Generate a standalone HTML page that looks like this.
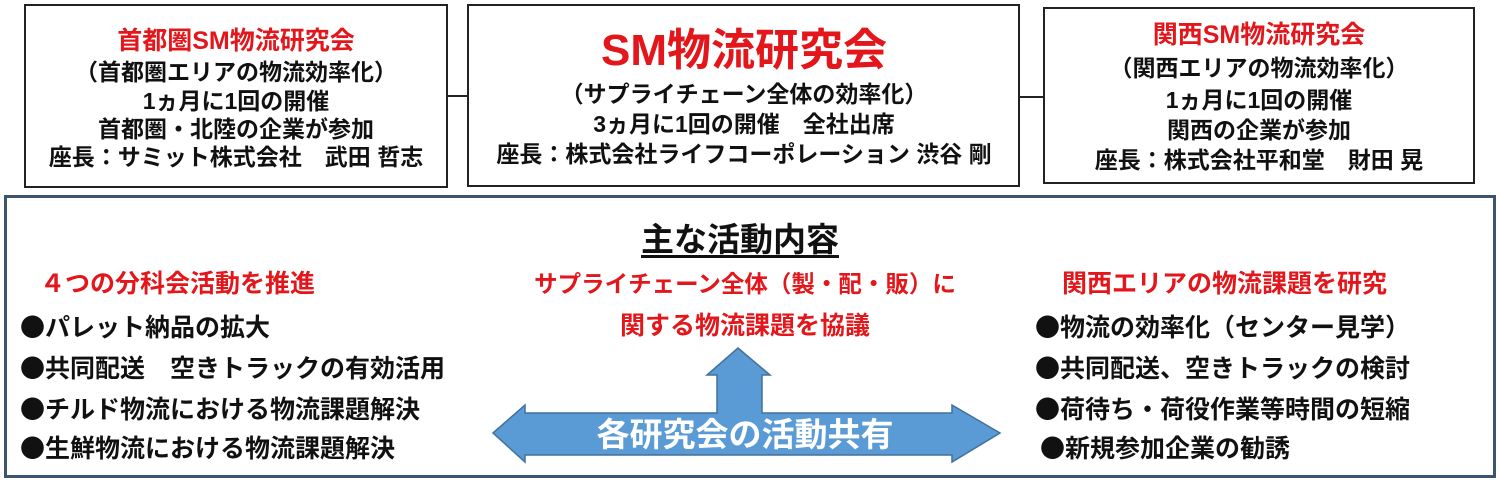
<!DOCTYPE html>
<html><head><meta charset="utf-8"><style>
body{margin:0;width:1500px;height:480px;background:#fff;position:relative;overflow:hidden;font-family:"Liberation Sans","Noto Sans CJK JP",sans-serif;font-weight:bold;color:#111}
.b{position:absolute;border:2px solid #222;box-sizing:border-box}
.t{position:absolute;white-space:nowrap;font-size:23px;line-height:28px}
.c{transform:translateX(-50%);text-align:center}
.r{color:#e3161b}
.l{font-size:25px;line-height:28px}
.d{font-family:"Noto Sans CJK JP",sans-serif}
</style></head><body>
<div class="b" style="left:24px;top:4px;width:424px;height:184px"></div>
<div class="b" style="left:467px;top:4px;width:553px;height:183px"></div>
<div class="b" style="left:1043px;top:7px;width:432px;height:177px"></div>
<div style="position:absolute;left:448px;top:95px;width:19px;height:2px;background:#222"></div>
<div style="position:absolute;left:1020px;top:96px;width:23px;height:2px;background:#222"></div>
<div class="b" style="left:4px;top:195px;width:1492px;height:283px;border:3px solid #3d5470"></div>

<div class="t c r" style="left:236px;top:27px;font-size:25px">首都圏SM物流研究会</div>
<div class="t c" style="left:236px;top:58px">（首都圏エリアの物流効率化）</div>
<div class="t c" style="left:236px;top:87px">1ヵ月に1回の開催</div>
<div class="t c" style="left:236px;top:115px">首都圏・北陸の企業が参加</div>
<div class="t c" style="left:236px;top:143px">座長：サミット株式会社　武田 哲志</div>

<div class="t c r" style="left:744px;top:26px;font-size:44px;line-height:50px">SM物流研究会</div>
<div class="t c" style="left:744px;top:80px">（サプライチェーン全体の効率化）</div>
<div class="t c" style="left:744px;top:110px">3ヵ月に1回の開催　全社出席</div>
<div class="t c" style="left:744px;top:140px">座長：株式会社ライフコーポレーション 渋谷 剛</div>

<div class="t c r" style="left:1259px;top:21px;font-size:25px">関西SM物流研究会</div>
<div class="t c" style="left:1259px;top:54px">（関西エリアの物流効率化）</div>
<div class="t c" style="left:1259px;top:86px">1ヵ月に1回の開催</div>
<div class="t c" style="left:1259px;top:116px">関西の企業が参加</div>
<div class="t c" style="left:1259px;top:146px">座長：株式会社平和堂　財田 晃</div>

<div class="t c" style="left:740px;top:221px;font-size:33px;line-height:38px;text-decoration:underline;text-underline-offset:4px">主な活動内容</div>

<div class="t r" style="left:40px;top:270px;font-size:25px">４つの分科会活動を推進</div>
<div class="t l" style="left:20px;top:312px"><span class="d">●</span>パレット納品の拡大</div>
<div class="t l" style="left:20px;top:353px"><span class="d">●</span>共同配送　空きトラックの有効活用</div>
<div class="t l" style="left:20px;top:394px"><span class="d">●</span>チルド物流における物流課題解決</div>
<div class="t l" style="left:20px;top:433px"><span class="d">●</span>生鮮物流における物流課題解決</div>

<div class="t c r" style="left:745px;top:270px;font-size:23.5px">サプライチェーン全体（製・配・販）に</div>
<div class="t c r" style="left:745px;top:312px;font-size:25px">関する物流課題を協議</div>

<div class="t r" style="left:1062px;top:270px;font-size:25px">関西エリアの物流課題を研究</div>
<div class="t l" style="left:1035px;top:312px"><span class="d">●</span>物流の効率化（センター見学）</div>
<div class="t l" style="left:1035px;top:353px"><span class="d">●</span>共同配送、空きトラックの検討</div>
<div class="t l" style="left:1035px;top:394px"><span class="d">●</span>荷待ち・荷役作業等時間の短縮</div>
<div class="t l" style="left:1040px;top:433px"><span class="d">●</span>新規参加企業の勧誘</div>

<svg style="position:absolute;left:0;top:0" width="1500" height="480">
<polygon points="493,433 525,405 525,413 717,413 717,375 707,375 738,348 770,375 762,375 762,413 952,413 952,405 1000,433 952,462 952,455 525,455 525,462" fill="#5b9bd5" stroke="#41719c" stroke-width="1.5"/>
<text x="745" y="446" text-anchor="middle" font-size="33" fill="#fff" font-family="Liberation Sans,Noto Sans CJK JP,sans-serif" font-weight="bold">各研究会の活動共有</text>
</svg>
</body></html>
